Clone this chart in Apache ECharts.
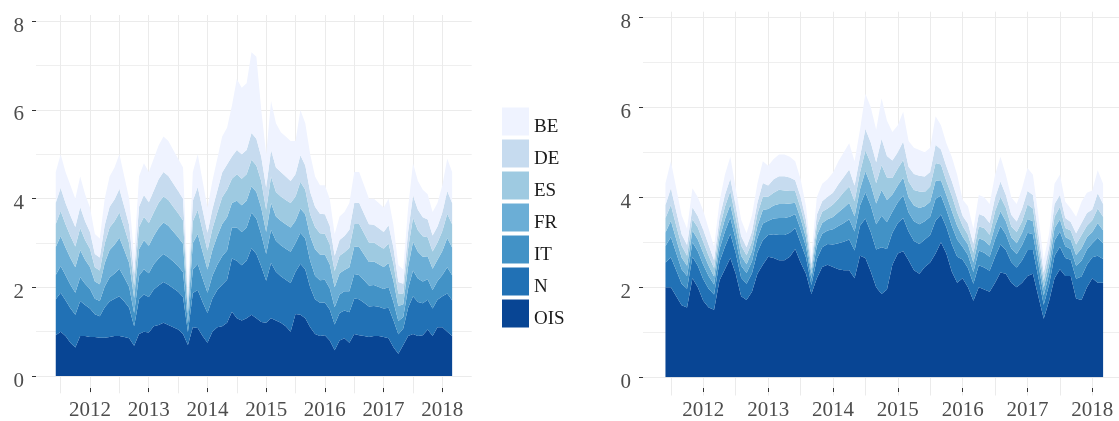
<!DOCTYPE html>
<html><head><meta charset="utf-8">
<script src="https://cdn.jsdelivr.net/npm/echarts@6/dist/echarts.min.js"></script>
<style>html,body{margin:0;padding:0;background:#fff}#c{width:1119px;height:421px}</style>
</head><body><div id="c"></div>
<script>
const months = ['2011-06','2011-07','2011-08','2011-09','2011-10','2011-11','2011-12',
'2012-01','2012-02','2012-03','2012-04','2012-05','2012-06','2012-07','2012-08','2012-09','2012-10','2012-11','2012-12',
'2013-01','2013-02','2013-03','2013-04','2013-05','2013-06','2013-07','2013-08','2013-09','2013-10','2013-11','2013-12',
'2014-01','2014-02','2014-03','2014-04','2014-05','2014-06','2014-07','2014-08','2014-09','2014-10','2014-11','2014-12',
'2015-01','2015-02','2015-03','2015-04','2015-05','2015-06','2015-07','2015-08','2015-09','2015-10','2015-11','2015-12',
'2016-01','2016-02','2016-03','2016-04','2016-05','2016-06','2016-07','2016-08','2016-09','2016-10','2016-11','2016-12',
'2017-01','2017-02','2017-03','2017-04','2017-05','2017-06','2017-07','2017-08','2017-09','2017-10','2017-11','2017-12',
'2018-01','2018-02','2018-03'];

const stackOrder = ['OIS','N','IT','FR','ES','DE','BE'];
const legendOrder = ['BE','DE','ES','FR','IT','N','OIS'];
const yearTicks = [2012,2013,2014,2015,2016,2017,2018];
const yTicks = [0,2,4,6,8];

// Left panel
const L_OIS = [.92,1.0,.9,.75,.64,.9,.9,.88,.88,.86,.86,.88,.9,.9,.88,.85,.68,.95,1.0,.98,1.12,1.15,1.2,1.15,1.1,1.05,.95,.7,1.1,1.08,.9,.75,1.0,1.1,1.12,1.2,1.45,1.3,1.25,1.3,1.38,1.3,1.22,1.2,1.3,1.25,1.2,1.12,1.0,1.4,1.38,1.3,1.1,.95,.9,.92,.8,.58,.8,.85,.75,.95,.92,.9,.88,.9,.9,.88,.85,.65,.5,.7,.9,.95,.9,.92,1.05,.9,1.1,1.1,1.0,.9];
const L_N = [.81,.88,.81,.78,.74,.79,.70,.64,.51,.49,.69,.80,.84,.90,.80,.69,.44,.78,.84,.80,.83,.89,.92,.91,.88,.85,.83,.29,.77,.86,.77,.67,.75,.84,.94,.97,
1.2,1.3,1.25,1.3,1.5,1.45,1.25,.95,1.25,1.1,1.05,1.05,1.1,.95,1.15,1.1,.9,
.78,.75,.74,.70,.58,.62,.63,.69,.80,.81,.75,.69,.68,.66,.64,.69,.61,.44,.37,.64,.85,.77,.72,.67,.62,.62,.70,.86,.81];
const L_IT = [.55,.60,.56,.53,.50,.54,.48,.44,.35,.34,.47,.54,.57,.62,.54,.47,.30,.53,.57,.54,.57,.61,.63,.62,.60,.58,.56,.20,.53,.59,.53,.46,.51,.57,.64,.66,
.7,.75,.75,.75,.8,.8,.72,.6,.75,.7,.7,.7,.7,.65,.7,.7,.6,
.53,.51,.51,.48,.39,.42,.43,.47,.55,.55,.51,.47,.47,.45,.44,.47,.41,.30,.26,.44,.58,.53,.49,.46,.42,.42,.48,.59,.56];
const L_FR = [.63,.68,.63,.60,.57,.61,.54,.50,.39,.38,.53,.62,.65,.70,.62,.54,.34,.60,.65,.62,.64,.69,.71,.71,.68,.65,.64,.22,.60,.67,.60,.52,.58,.65,.73,.75,
.55,.6,.6,.6,.6,.6,.6,.5,.6,.55,.55,.55,.55,.5,.55,.55,.55,
.60,.58,.57,.54,.45,.48,.48,.54,.62,.63,.58,.53,.53,.51,.50,.54,.47,.34,.29,.49,.65,.60,.56,.52,.48,.48,.54,.66,.63];
const L_ES = [.52,.56,.52,.50,.47,.50,.45,.41,.32,.31,.44,.51,.53,.57,.51,.44,.28,.50,.53,.51,.53,.57,.59,.58,.56,.54,.53,.18,.49,.55,.49,.43,.48,.53,.60,.62,
.55,.6,.6,.6,.6,.6,.6,.5,.6,.55,.55,.55,.55,.55,.6,.55,.5,
.50,.48,.47,.45,.37,.39,.40,.44,.51,.52,.48,.44,.43,.42,.41,.44,.39,.28,.24,.41,.54,.49,.46,.43,.39,.39,.45,.55,.52];
const L_DE = [.48,.52,.48,.46,.44,.47,.42,.38,.30,.29,.41,.47,.49,.53,.47,.41,.26,.46,.49,.47,.49,.53,.55,.54,.52,.50,.49,.17,.46,.51,.46,.40,.44,.49,.56,.57,
.5,.55,.55,.55,.6,.6,.55,.5,.6,.55,.55,.53,.5,.5,.6,.55,.5,
.46,.44,.44,.42,.34,.36,.37,.41,.47,.48,.44,.41,.40,.39,.38,.41,.36,.26,.22,.38,.50,.46,.43,.40,.36,.36,.42,.51,.48];
const L_BE = [.69,.76,.70,.68,.64,.69,.61,.55,.45,.43,.60,.68,.72,.78,.68,.60,.40,.68,.72,.68,.72,.76,.80,.79,.76,.73,.70,.24,.65,.74,.65,.57,.64,.72,.81,.83,
1.15,1.6,1.5,1.5,1.82,1.85,1.06,.75,1.1,1.0,.9,.9,.9,.75,1.02,.95,.85,
.68,.64,.65,.61,.49,.53,.54,.60,.70,.69,.64,.58,.59,.57,.55,.60,.51,.38,.32,.54,.73,.65,.62,.57,.53,.53,.61,.73,.70];

// Right panel
const R_OIS = [2.0,2.0,1.8,1.6,1.55,2.2,2.0,1.7,1.55,1.5,2.15,2.4,2.65,2.3,1.8,1.72,1.9,2.3,2.5,2.68,2.65,2.6,2.6,2.68,2.85,2.55,2.3,1.85,2.2,2.45,2.5,2.45,2.4,2.38,2.38,2.2,2.7,2.65,2.35,2.0,1.85,1.95,2.5,2.75,2.8,2.6,2.38,2.3,2.45,2.55,2.75,3.0,2.75,2.35,2.1,2.2,2.0,1.7,2.0,1.95,1.9,2.1,2.33,2.3,2.1,2.0,2.1,2.25,2.3,1.8,1.3,1.7,2.2,2.4,2.25,2.25,1.75,1.72,2.0,2.2,2.1,2.1];
const R_N = [.55,.67,.58,.48,.42,.48,.48,.48,.42,.34,.42,.50,.54,.46,.41,.36,.41,.48,.55,.48,.53,.56,.56,.53,.47,.44,.36,.20,.43,.44,.46,.50,.58,.63,.68,.62,.67,.88,.88,.84,1.04,.90,.71,.68,.74,.64,.65,.66,.61,.61,.73,.62,.59,.61,.58,.42,.43,.38,.49,.49,.47,.58,.62,.53,.46,.44,.50,.58,.53,.43,.31,.36,.50,.50,.40,.36,.44,.52,.50,.47,.60,.53];
const R_IT = [.37,.45,.38,.32,.28,.32,.32,.32,.28,.22,.28,.34,.36,.30,.27,.24,.27,.32,.37,.32,.35,.38,.38,.36,.31,.30,.24,.14,.29,.30,.30,.34,.38,.42,.45,.42,.45,.58,.58,.56,.70,.60,.47,.46,.50,.42,.44,.44,.41,.41,.49,.42,.39,.41,.38,.28,.29,.26,.33,.33,.31,.38,.41,.35,.30,.30,.34,.38,.35,.29,.21,.24,.34,.34,.26,.24,.29,.35,.34,.31,.40,.35];
const R_FR = [.30,.36,.31,.26,.23,.26,.26,.26,.23,.18,.23,.27,.29,.25,.22,.19,.22,.26,.30,.26,.29,.31,.31,.29,.25,.24,.20,.11,.23,.24,.25,.27,.31,.34,.37,.34,.36,.47,.47,.46,.57,.49,.38,.37,.40,.34,.35,.36,.33,.33,.40,.34,.32,.33,.31,.23,.23,.21,.27,.27,.25,.31,.33,.29,.25,.24,.27,.31,.29,.23,.17,.20,.27,.27,.21,.20,.24,.28,.27,.25,.33,.29];
const R_ES = [.32,.35,.30,.27,.22,.25,.27,.25,.22,.19,.22,.28,.30,.24,.23,.20,.21,.27,.29,.27,.28,.32,.30,.28,.26,.23,.21,.12,.22,.25,.24,.28,.30,.35,.36,.33,.37,.46,.48,.45,.56,.50,.37,.38,.39,.35,.34,.37,.32,.34,.39,.35,.31,.34,.30,.24,.22,.22,.26,.28,.24,.32,.32,.30,.24,.25,.26,.32,.28,.24,.16,.21,.26,.28,.20,.21,.23,.29,.26,.26,.32,.30];
const R_DE = [.29,.37,.32,.25,.24,.27,.25,.27,.24,.17,.24,.26,.28,.26,.21,.18,.23,.25,.31,.25,.30,.30,.32,.30,.24,.25,.19,.10,.24,.23,.26,.26,.32,.33,.38,.35,.35,.48,.46,.47,.58,.48,.39,.36,.41,.33,.36,.35,.34,.32,.41,.33,.33,.32,.32,.22,.24,.20,.28,.26,.26,.30,.34,.28,.26,.23,.28,.30,.30,.22,.18,.19,.28,.26,.22,.19,.25,.27,.28,.24,.34,.28];
const R_BE = [.48,.60,.51,.42,.36,.42,.42,.42,.36,.30,.36,.45,.48,.39,.36,.31,.36,.42,.48,.44,.45,.48,.48,.46,.42,.39,.30,.18,.39,.39,.39,.45,.51,.55,.58,.54,.60,.78,.78,.72,.90,.78,.63,.60,.66,.57,.58,.57,.54,.54,.63,.54,.51,.54,.51,.36,.39,.33,.42,.42,.42,.51,.55,.45,.39,.39,.45,.51,.45,.39,.27,.30,.45,.45,.36,.30,.37,.47,.45,.42,.51,.45];

const leftData = {OIS:L_OIS, N:L_N, IT:L_IT, FR:L_FR, ES:L_ES, DE:L_DE, BE:L_BE};
const rightData = {OIS:R_OIS, N:R_N, IT:R_IT, FR:R_FR, ES:R_ES, DE:R_DE, BE:R_BE};
const colors = {BE:'#EFF3FF', DE:'#C6DBEF', ES:'#9ECAE1', FR:'#6BAED6', IT:'#4292C6', N:'#2171B5', OIS:'#084594'};

const font = "'Liberation Serif', 'Times New Roman', serif";
const axisTextColor = '#4d4d4d';
const gridColor = '#ebebeb';

// decimal year -> timestamp (linear within each year)
function decToMs(y){ const f = Math.floor(y); const a = Date.UTC(f,0,1), b = Date.UTC(f+1,0,1); return a + (y-f)*(b-a); }
function toYear(s){ const p = s.split('-'); return +p[0] + (+p[1]-1)/12; }
const xs = months.map(function(m){ return decToMs(toYear(m)); });

function dataX(gi, min, max){ return {type:'time', gridIndex:gi, min:decToMs(min), max:decToMs(max), show:false}; }
function vGridX(gi){ return {type:'value', gridIndex:gi, min:2011.5, max:yearTicks[yearTicks.length-1], interval:0.5,
  axisLine:{show:false}, axisTick:{show:false}, axisLabel:{show:false},
  splitLine:{show:true, lineStyle:{color:gridColor, width:1}}}; }
function labelX(gi){ return {type:'value', gridIndex:gi, min:yearTicks[0], max:yearTicks[yearTicks.length-1], interval:1,
  axisLine:{show:false}, axisTick:{show:true, length:4, lineStyle:{color:'#333', width:1}},
  axisLabel:{show:true, margin:12, fontSize:21, fontFamily:font, color:axisTextColor, formatter:function(v){return String(Math.round(v));}},
  splitLine:{show:false}}; }
function dataY(gi){ return {type:'value', gridIndex:gi, min:yTicks[0], max:yTicks[yTicks.length-1], interval:2,
  axisLine:{show:false}, axisTick:{show:true, length:4, lineStyle:{color:'#333', width:1}},
  axisLabel:{margin:12, fontSize:21, fontFamily:font, color:axisTextColor, lineHeight:10,
    formatter:function(v){ return '\n' + v; }},
  splitLine:{show:true, lineStyle:{color:gridColor, width:1}},
  minorTick:{show:false, splitNumber:2}, minorSplitLine:{show:true, lineStyle:{color:'#efefef', width:1}}}; }
function hiddenY(gi){ return {type:'value', gridIndex:gi, min:0, max:1, show:false}; }

function mkSeries(name, arr, axisIdx, stack){
  return {type:'line', name:name, xAxisIndex:axisIdx, yAxisIndex:axisIdx, stack:stack,
    data: xs.map(function(x,i){return [x, arr[i]];}),
    showSymbol:false, symbol:'none', smooth:false, lineStyle:{width:0},
    areaStyle:{color:colors[name], opacity:1}, itemStyle:{color:colors[name]},
    emphasis:{disabled:true}, silent:true};
}

const series = [];
stackOrder.forEach(function(n){ series.push(mkSeries(n, leftData[n], 0, 'L')); });
stackOrder.forEach(function(n){ series.push(mkSeries(n, rightData[n], 3, 'R')); });

const chart = echarts.init(document.getElementById('c'), null, {renderer:'canvas'});
chart.setOption({
  animation:false,
  backgroundColor:'#ffffff',
  grid:[
    {left:36, right:1119-471.7, top:21.3, bottom:421-376},
    {left:60.6, right:1119-442.3, top:15, bottom:421-393.3},
    {left:90, right:1119-442.3, top:15, bottom:421-393.3},
    {left:643, right:0, top:17.3, bottom:421-377.3},
    {left:670.9, right:1119-1092.3, top:11.7, bottom:421-395.5},
    {left:703.3, right:1119-1092.3, top:11.7, bottom:421-395.5}
  ],
  xAxis:[ dataX(0, 2011.08, 2018.5), vGridX(1), labelX(2), dataX(3, 2011.07, 2018.412), vGridX(4), labelX(5) ],
  yAxis:[ dataY(0), hiddenY(1), hiddenY(2), dataY(3), hiddenY(4), hiddenY(5) ],
  legend:{orient:'vertical', left:502, top:106, padding:0, itemWidth:27, itemHeight:28, itemGap:1,
    icon:'rect', data:legendOrder, selectedMode:false,
    itemStyle:{borderWidth:0},
    formatter:function(n){ return '\n' + n; },
    textStyle:{fontFamily:font, fontSize:19, color:'#1a1a1a', lineHeight:12}},
  series:series
});
</script></body></html>
